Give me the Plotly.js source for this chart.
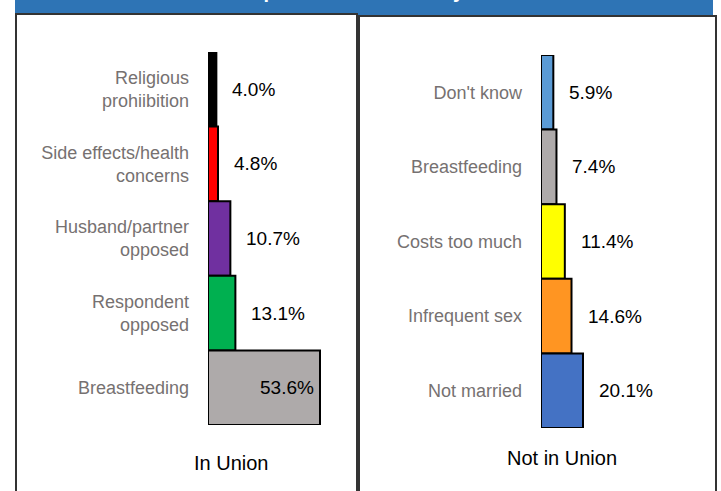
<!DOCTYPE html>
<html>
<head>
<meta charset="utf-8">
<script src="https://cdn.plot.ly/plotly-3.0.1.min.js"></script>
<style>html,body{margin:0;padding:0;background:#fff;}#chart{width:721px;height:491px;}</style>
</head>
<body>
<div id="chart"></div>
<script>
// ---- data ----
const titleText = "Non-Use Responses of Women by Union Status";
const unionCategories = ["Religious<br>prohiibition", "Side effects/health<br>concerns", "Husband/partner<br>opposed", "Respondent<br>opposed", "Breastfeeding"];
const unionValues = [4.0, 4.8, 10.7, 13.1, 53.6];
const unionColors = ["#000000", "#FF0000", "#7030A0", "#00B050", "#AEAAAA"];
const unionLabel = "In Union";

const notUnionCategories = ["Don't know", "Breastfeeding", "Costs too much", "Infrequent sex", "Not married"];
const notUnionValues = [5.9, 7.4, 11.4, 14.6, 20.1];
const notUnionColors = ["#5B9BD5", "#AEAAAA", "#FFFF00", "#FF9522", "#4472C4"];
const notUnionLabel = "Not in Union";

// ---- layout helpers (pixel -> paper) ----
const W = 721, H = 491;
const px = v => v / W;
const py = v => 1 - v / H;
const pxPerUnit = 2.09;
const xMax = 60;

function fmt(v) { return v.toFixed(1) + "%"; }

const traces = [
  {
    type: "bar", orientation: "h",
    x: unionValues, y: unionCategories,
    xaxis: "x", yaxis: "y",
    marker: { color: unionColors, line: { color: "#000000", width: 2 } },
    hoverinfo: "skip"
  },
  {
    type: "bar", orientation: "h",
    x: notUnionValues, y: notUnionCategories,
    xaxis: "x2", yaxis: "y2",
    marker: { color: notUnionColors, line: { color: "#000000", width: 2 } },
    hoverinfo: "skip"
  }
];

const valueFont = { family: "Liberation Sans, Arial, sans-serif", size: 19, color: "#000000" };
const annotations = [];
const maxUnion = Math.max(...unionValues);
unionValues.forEach((v, i) => {
  const inside = v === maxUnion && v > 40;
  annotations.push({
    xref: "x", yref: "y", x: v, y: unionCategories[i],
    text: fmt(v), showarrow: false,
    xanchor: inside ? "right" : "left",
    xshift: inside ? -4 : 14,
    font: valueFont
  });
});
notUnionValues.forEach((v, i) => {
  annotations.push({
    xref: "x2", yref: "y2", x: v, y: notUnionCategories[i],
    text: fmt(v), showarrow: false,
    xanchor: "left", xshift: 14,
    font: valueFont
  });
});
annotations.push({
  xref: "paper", yref: "paper", x: px(231), y: py(463),
  text: unionLabel, showarrow: false, xanchor: "center", yanchor: "middle",
  font: { family: "Liberation Sans, Arial, sans-serif", size: 20, color: "#000000" }
});
annotations.push({
  xref: "paper", yref: "paper", x: px(562), y: py(458),
  text: notUnionLabel, showarrow: false, xanchor: "center", yanchor: "middle",
  font: { family: "Liberation Sans, Arial, sans-serif", size: 20, color: "#000000" }
});
// banner title (mostly above the visible area, as in the reference)
annotations.push({
  xref: "paper", yref: "paper", x: px(366), y: py(-9),
  text: "<b>" + titleText + "</b>", showarrow: false, xanchor: "center", yanchor: "middle",
  font: { family: "Liberation Sans, Arial, sans-serif", size: 20, color: "#FFFFFF" }
});

const shapes = [
  { type: "rect", xref: "paper", yref: "paper", x0: px(15), x1: px(713), y0: py(15), y1: py(-5),
    fillcolor: "#2E74B5", line: { width: 0 }, layer: "below" },
  { type: "rect", xref: "paper", yref: "paper", x0: px(16), x1: px(357), y0: py(14), y1: py(520),
    fillcolor: "rgba(0,0,0,0)", line: { color: "#333333", width: 2 }, layer: "below" },
  { type: "rect", xref: "paper", yref: "paper", x0: px(359), x1: px(716), y0: py(16), y1: py(520),
    fillcolor: "rgba(0,0,0,0)", line: { color: "#333333", width: 2 }, layer: "below" }
];

const catFont = { family: "Liberation Sans, Arial, sans-serif", size: 18, color: "#767171" };

const layout = {
  width: W, height: H,
  margin: { l: 0, r: 0, t: 0, b: 0, pad: 0 },
  paper_bgcolor: "#FFFFFF", plot_bgcolor: "rgba(0,0,0,0)",
  showlegend: false,
  bargap: 0,
  xaxis: { domain: [px(208), px(208 + xMax * pxPerUnit)], range: [0, xMax], visible: false, fixedrange: true },
  yaxis: { domain: [py(425), py(52)], range: [4.5, -0.5], type: "category",
           showgrid: false, zeroline: false, showline: false, ticks: "",
           tickfont: catFont, ticklabelstandoff: 18, anchor: "x", fixedrange: true },
  xaxis2: { domain: [px(541), px(541 + xMax * pxPerUnit)], range: [0, xMax], visible: false, anchor: "y2", fixedrange: true },
  yaxis2: { domain: [py(428), py(55)], range: [4.5, -0.5], type: "category",
            showgrid: false, zeroline: false, showline: false, ticks: "",
            tickfont: catFont, ticklabelstandoff: 18, anchor: "x2", fixedrange: true },
  shapes: shapes,
  annotations: annotations
};

Plotly.newPlot("chart", traces, layout, { displayModeBar: false, staticPlot: true });
</script>
</body>
</html>
